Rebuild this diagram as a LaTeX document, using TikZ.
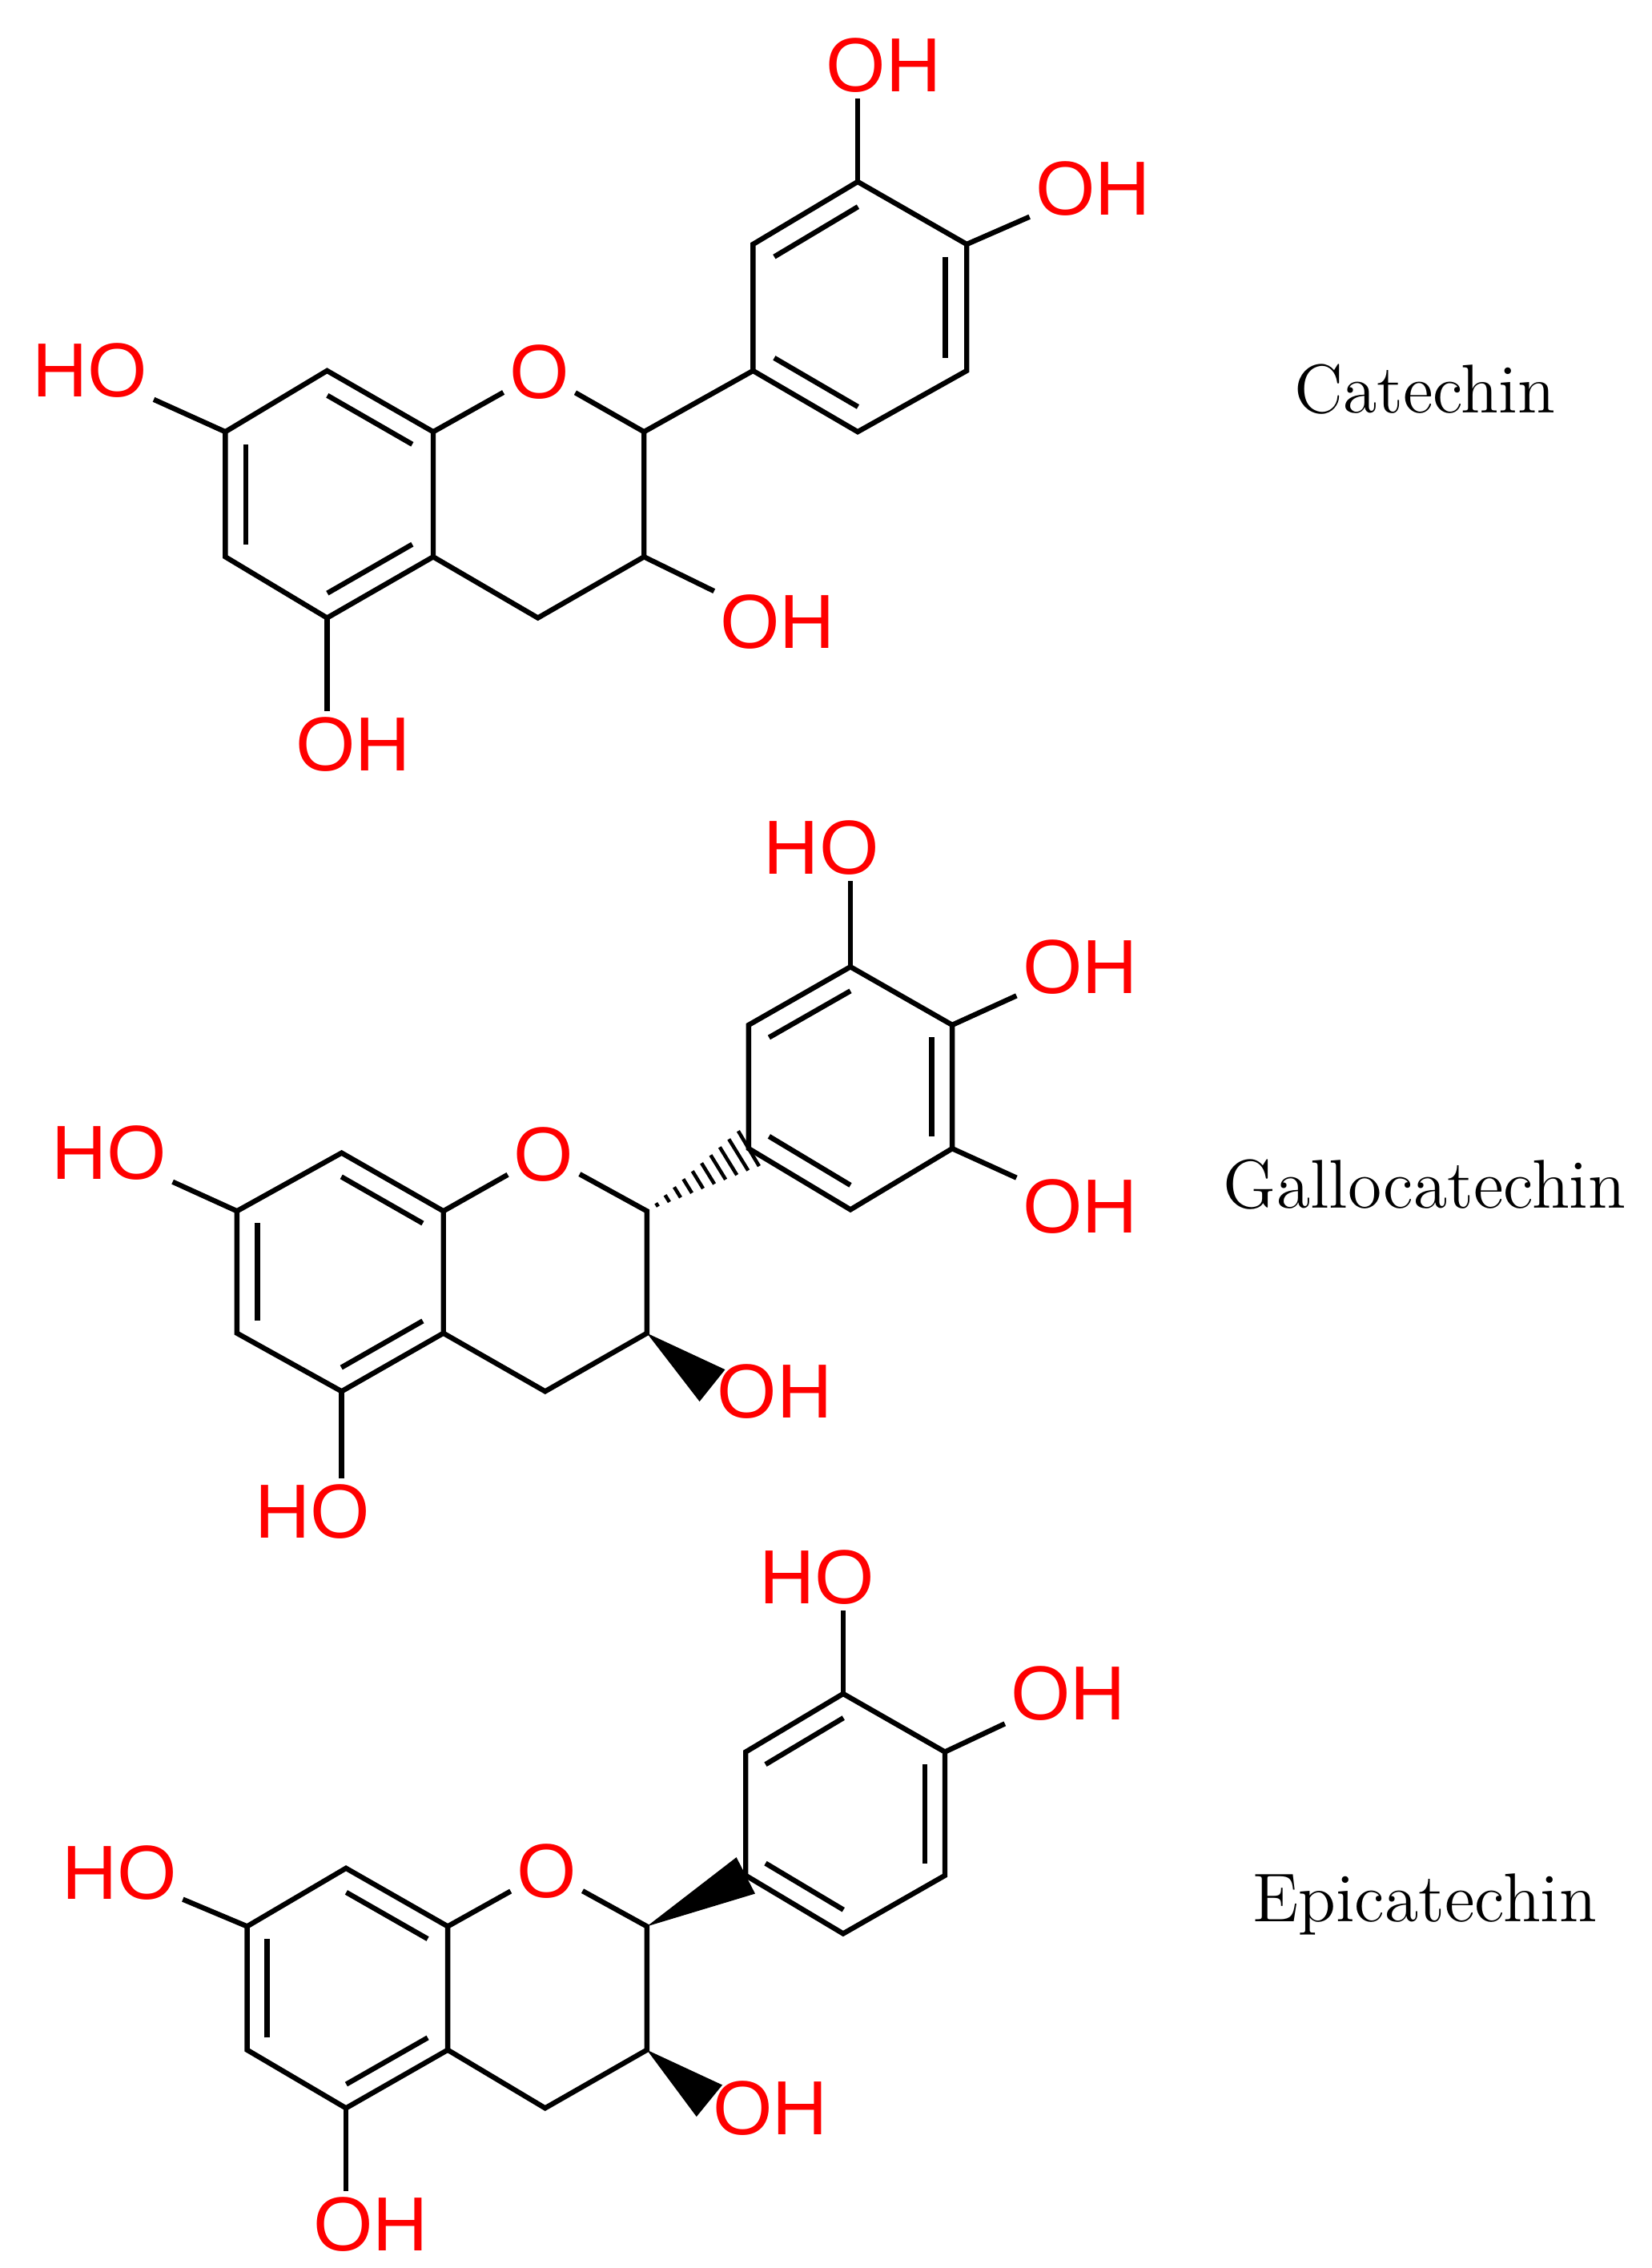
\documentclass[tikz,border=0pt]{standalone}
\usepackage{fontspec}
\newfontfamily\labelfont{Liberation Sans}
\usetikzlibrary{calc}
\tikzset{
  bond/.style={line width=1pt,black},
  atomlabel/.style={text=red,font=\labelfont\fontsize{15}{17}\selectfont,inner sep=1pt},
  molname/.style={font=\fontsize{13.5}{16}\selectfont}
}
% inner line of a double bond, pulled towards the ring centre
\newcommand{\dbl}[3]{\draw[bond] ($(#1)!0.2!(#3)$) -- ($(#2)!0.2!(#3)$);}
\begin{document}
\begin{tikzpicture}[x=0.01cm,y=-0.01cm]
  \useasboundingbox (0,0) rectangle (1136,1560);
  % ---------------- Catechin
  \coordinate (a8) at (225,255); \coordinate (a8a) at (298,297);
  \coordinate (a4a) at (298,383); \coordinate (a5) at (225,425);
  \coordinate (a6) at (155,383); \coordinate (a7) at (155,297);
  \coordinate (a2) at (443,297); \coordinate (a3) at (443,383);
  \coordinate (a4) at (370,425);
  \coordinate (ab1) at (518,255); \coordinate (ab2) at (518,168);
  \coordinate (ab3) at (590,125); \coordinate (ab4) at (665,168);
  \coordinate (ab5) at (665,255); \coordinate (ab6) at (590,297);
  \coordinate (acA) at (226,340); \coordinate (acB) at (591,211);
  \node[atomlabel] (aO) at (371,256) {O};
  \node[atomlabel] (aOH3p) at (608,45) {OH};
  \node[atomlabel] (aOH4p) at (752,130) {OH};
  \node[atomlabel] (aHO7) at (62,255) {HO};
  \node[atomlabel] (aOH5) at (243,512) {OH};
  \node[atomlabel] (aOH3) at (535,428) {OH};
  \draw[bond] (a8) -- (a8a) -- (a4a) -- (a5) -- (a6) -- (a7) -- cycle;
  \draw[bond] (a8a) -- (aO) -- (a2) -- (a3) -- (a4) -- (a4a);
  \draw[bond] (ab1) -- (ab2) -- (ab3) -- (ab4) -- (ab5) -- (ab6) -- cycle;
  \draw[bond] (a2) -- (ab1);
  \draw[bond] (a3) -- (aOH3);
  \draw[bond] (a7) -- (aHO7);
  \draw[bond] (a5) -- (a5 |- aOH5.north);
  \draw[bond] (ab3) -- (ab3 |- aOH3p.south);
  \draw[bond] (ab4) -- (aOH4p);
  \dbl{a8}{a8a}{acA} \dbl{a6}{a7}{acA} \dbl{a5}{a4a}{acA}
  \dbl{ab2}{ab3}{acB} \dbl{ab4}{ab5}{acB} \dbl{ab6}{ab1}{acB}
  \node[molname] (aname) at (980,268) {Catechin};
  % ---------------- Gallocatechin
  \coordinate (g8) at (235,793); \coordinate (g8a) at (305,833);
  \coordinate (g4a) at (305,917); \coordinate (g5) at (235,957);
  \coordinate (g6) at (163,917); \coordinate (g7) at (163,833);
  \coordinate (g2) at (445,833); \coordinate (g3) at (445,917);
  \coordinate (g4) at (375,957);
  \coordinate (gb1) at (515,790); \coordinate (gb2) at (515,705);
  \coordinate (gb3) at (585,665); \coordinate (gb4) at (655,705);
  \coordinate (gb5) at (655,790); \coordinate (gb6) at (585,832);
  \coordinate (gcA) at (234,875); \coordinate (gcB) at (585,748);
  \coordinate (gw3) at (490,953);
  \node[atomlabel] (gO) at (374,794) {O};
  \node[atomlabel] (gHO3p) at (565,583) {HO};
  \node[atomlabel] (gOH4p) at (743,665) {OH};
  \node[atomlabel] (gOH5p) at (743,830) {OH};
  \node[atomlabel] (gHO7) at (75,793) {HO};
  \node[atomlabel] (gHO5) at (215,1040) {HO};
  \node[atomlabel] (gOH3) at (533,957) {OH};
  \draw[bond] (g8) -- (g8a) -- (g4a) -- (g5) -- (g6) -- (g7) -- cycle;
  \draw[bond] (g8a) -- (gO) -- (g2) -- (g3) -- (g4) -- (g4a);
  \draw[bond] (gb1) -- (gb2) -- (gb3) -- (gb4) -- (gb5) -- (gb6) -- cycle;
  \foreach \t in {0.1,0.2,...,1.0} {
    \path ($(g2)!\t!(gb1)$) coordinate (p);
    \draw[line width=0.7pt] ($(p)!{\t*4pt}!90:(gb1)$) -- ($(p)!{\t*4pt}!-90:(gb1)$);
  }
  \fill (g3) -- ($(gw3)!4pt!90:(g3)$) -- ($(gw3)!4pt!-90:(g3)$) -- cycle;
  \draw[bond] (g7) -- (gHO7);
  \draw[bond] (g5) -- (g5 |- gHO5.north);
  \draw[bond] (gb3) -- (gb3 |- gHO3p.south);
  \draw[bond] (gb4) -- (gOH4p);
  \draw[bond] (gb5) -- (gOH5p);
  \dbl{g8}{g8a}{gcA} \dbl{g6}{g7}{gcA} \dbl{g5}{g4a}{gcA}
  \dbl{gb2}{gb3}{gcB} \dbl{gb4}{gb5}{gcB} \dbl{gb6}{gb1}{gcB}
  \node[molname] (gname) at (980,815) {Gallocatechin};
  % ---------------- Epicatechin
  \coordinate (e8) at (238,1285); \coordinate (e8a) at (308,1325);
  \coordinate (e4a) at (308,1410); \coordinate (e5) at (238,1450);
  \coordinate (e6) at (170,1410); \coordinate (e7) at (170,1325);
  \coordinate (e2) at (445,1325); \coordinate (e3) at (445,1410);
  \coordinate (e4) at (375,1450);
  \coordinate (eb1) at (513,1290); \coordinate (eb2) at (513,1205);
  \coordinate (eb3) at (580,1165); \coordinate (eb4) at (650,1205);
  \coordinate (eb5) at (650,1290); \coordinate (eb6) at (580,1330);
  \coordinate (ecA) at (239,1368); \coordinate (ecB) at (581,1248);
  \coordinate (ew3) at (488,1445);
  \node[atomlabel] (eO) at (376,1287) {O};
  \node[atomlabel] (eHO3p) at (562,1085) {HO};
  \node[atomlabel] (eOH4p) at (735,1165) {OH};
  \node[atomlabel] (eHO7) at (82,1288) {HO};
  \node[atomlabel] (eOH5) at (255,1530) {OH};
  \node[atomlabel] (eOH3) at (530,1450) {OH};
  \draw[bond] (e8) -- (e8a) -- (e4a) -- (e5) -- (e6) -- (e7) -- cycle;
  \draw[bond] (e8a) -- (eO) -- (e2) -- (e3) -- (e4) -- (e4a);
  \draw[bond] (eb1) -- (eb2) -- (eb3) -- (eb4) -- (eb5) -- (eb6) -- cycle;
  \fill (e2) -- ($(eb1)!4pt!90:(e2)$) -- ($(eb1)!4pt!-90:(e2)$) -- cycle;
  \fill (e3) -- ($(ew3)!4pt!90:(e3)$) -- ($(ew3)!4pt!-90:(e3)$) -- cycle;
  \draw[bond] (e7) -- (eHO7);
  \draw[bond] (e5) -- (e5 |- eOH5.north);
  \draw[bond] (eb3) -- (eb3 |- eHO3p.south);
  \draw[bond] (eb4) -- (eOH4p);
  \dbl{e8}{e8a}{ecA} \dbl{e6}{e7}{ecA} \dbl{e5}{e4a}{ecA}
  \dbl{eb2}{eb3}{ecB} \dbl{eb4}{eb5}{ecB} \dbl{eb6}{eb1}{ecB}
  \node[molname] (ename) at (980,1310) {Epicatechin};
\end{tikzpicture}
\end{document}
